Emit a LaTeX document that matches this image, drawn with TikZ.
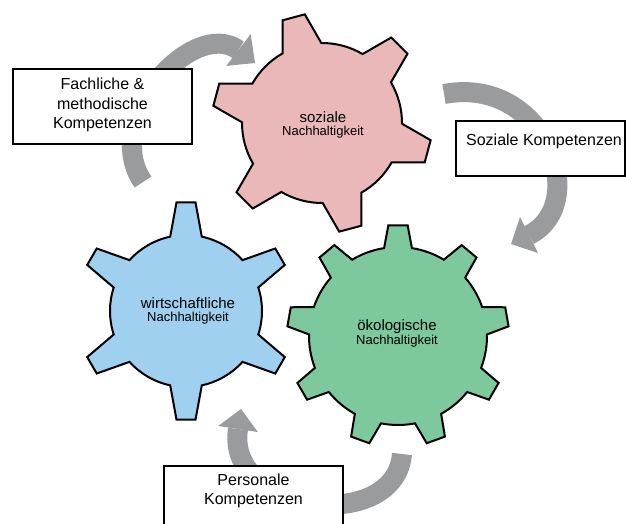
\documentclass[tikz,border=0pt]{standalone}
\usepackage{fontspec}
\setmainfont{Liberation Sans}
\definecolor{pinkg}{HTML}{EAB8B8}
\definecolor{blueg}{HTML}{9FD0F0}
\definecolor{greeng}{HTML}{7DC99D}
\definecolor{arrowg}{HTML}{9A9B9D}
% #1 fill, #2 center, #3 teeth, #4 offset angle, #5 root r, #6 tip R, #7 root half angle, #8 tip half angle
\newcommand\mygear[8]{%
  \filldraw[gearline, fill=#1, shift={(#2)}]
    ({#4-#7}:#5)
    \foreach \k in {1,...,#3} {
      -- ({#4+360/#3*(\k-1)-#8}:#6)
      -- ({#4+360/#3*(\k-1)+#8}:#6)
      -- ({#4+360/#3*(\k-1)+#7}:#5)
      arc[start angle={#4+360/#3*(\k-1)+#7}, end angle={#4+360/#3*\k-#7}, radius=#5]
    } -- cycle;}
\begin{document}
\begin{tikzpicture}[x=1pt,y=1pt,
  gearline/.style={draw=black, line width=2pt, line join=miter},
  band/.style={draw=arrowg, line width=20pt, line cap=butt},
  headfill/.style={fill=arrowg, draw=none},
  kbox/.style={draw=black, fill=white, line width=1.6pt, rectangle, inner sep=0pt},
  ktext/.style={font=\fontsize{16}{19.5}\selectfont, align=center, inner sep=0pt},
  gbig/.style={font=\fontsize{15}{15}\selectfont, inner sep=0pt},
  gsmall/.style={font=\fontsize{13}{13}\selectfont, inner sep=0pt}]
\useasboundingbox (0,0) rectangle (626,-523);
\clip (0,0) rectangle (626,-523);
\fill[white] (0,0) rectangle (626,-523);

% ---- arrows ----
\coordinate (a1s) at (143,-182);
\coordinate (a1b) at (238.5,-50);
\coordinate (a1l) at (226.3,-65.9);
\coordinate (a1r) at (250.7,-34.1);
\coordinate (a1t) at (255,-63);
\draw[band] (a1s) .. controls (100,-120) and (193,-17) .. (a1b);
\fill[headfill] (a1l) -- (a1r) -- (a1t) -- cycle;

\coordinate (a2s) at (444,-94);
\coordinate (a2b) at (529,-235);
\coordinate (a2l) at (520,-217);
\coordinate (a2r) at (538,-253);
\coordinate (a2t) at (511,-244);
\draw[band] (a2s) .. controls (545,-75) and (591.6,-203.7) .. (a2b);
\fill[headfill] (a2l) -- (a2r) -- (a2t) -- cycle;

\coordinate (a3s) at (402,-454);
\coordinate (a3b) at (238,-429);
\coordinate (a3l) at (218.2,-426);
\coordinate (a3r) at (257.8,-432);
\coordinate (a3t) at (241,-409);
\draw[band] (a3s) .. controls (395,-535) and (225,-513) .. (a3b);
\fill[headfill] (a3l) -- (a3r) -- (a3t) -- cycle;

% ---- gears ----
\coordinate (pinkc) at (322,-123);
\coordinate (bluec) at (186,-311);
\coordinate (greenc) at (398,-336);
\mygear{pinkg}{pinkc}{6}{105}{80}{110}{14.5}{6}
\mygear{blueg}{bluec}{6}{90}{76}{109}{12}{5}
\mygear{greeng}{greenc}{9}{90}{89}{111}{9}{5}

\node[gbig] (pink1) at (323,-117) {soziale};
\node[gsmall] (pink2) at (323,-132.5) {Nachhaltigkeit};
\node[gbig] (blue1) at (188,-303) {wirtschaftliche};
\node[gsmall] (blue2) at (188,-318.5) {Nachhaltigkeit};
\node[gbig] (green1) at (397,-326.5) {ökologische};
\node[gsmall] (green2) at (397,-341.5) {Nachhaltigkeit};

% ---- boxes ----
\node[kbox, minimum width=179pt, minimum height=75pt] (fach) at (102.5,-106.5) {};
\node[ktext] (facht) at (102.5,-105) {Fachliche \&\\methodische\\Kompetenzen};
\node[kbox, minimum width=169pt, minimum height=55pt] (soz) at (540.5,-148.5) {};
\node[ktext] (sozt) at (544,-141) {Soziale Kompetenzen};
\node[kbox, minimum width=179pt, minimum height=70pt] (pers) at (253.5,-501) {};
\node[ktext] (perst) at (253.5,-491) {Personale\\Kompetenzen};
\end{tikzpicture}
\end{document}
